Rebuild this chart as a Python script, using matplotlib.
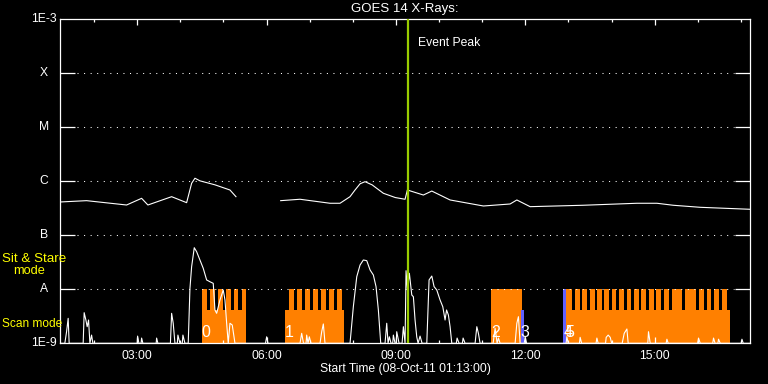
import numpy as np
import matplotlib
matplotlib.use("Agg")
import matplotlib.pyplot as plt
from matplotlib.ticker import FixedLocator, MultipleLocator, NullFormatter

plt.rcParams['font.family'] = ['Liberation Sans', 'DejaVu Sans']

# ---------------- data (time in decimal hours of 08-Oct-11) ----------------
goes_t = [1.214, 1.826, 2.754, 3.102, 3.248, 3.798, 4.146, 4.262, 4.339, 4.455, 4.803, 5.151, 5.290,
          np.nan,
          6.327, 6.775, 7.471, 7.703, 7.935, 8.051, 8.168, 8.283, 8.446, 8.708, 8.986, 9.211, 9.265,
          9.636, 9.831, 10.255, 11.028, 11.647, 11.803, 12.111, 13.341, 14.587, 15.051, 15.429,
          16.056, 17.216]
goes_flux = [4.14e-7, 4.38e-7, 3.64e-7, 4.84e-7, 3.64e-7, 5.19e-7, 4.02e-7, 9.19e-7, 1.14e-6, 1.02e-6,
             8.6e-7, 6.9e-7, 5.19e-7,
             np.nan,
             4.38e-7, 4.65e-7, 3.92e-7, 3.92e-7, 5.19e-7, 6.9e-7, 9.0e-7, 9.84e-7, 8.6e-7, 6.0e-7,
             5.0e-7, 4.65e-7, 6.9e-7, 5.57e-7, 6.6e-7, 4.51e-7, 3.49e-7, 3.80e-7, 4.51e-7, 3.39e-7,
             3.60e-7, 3.92e-7, 3.92e-7, 3.60e-7, 3.30e-7, 3.03e-7]

deriv_t = [1.214, 1.322, 1.362, 1.399, 1.422, 1.747, 1.770, 1.810, 1.840, 1.872, 1.903, 1.942, 1.972,
           3.000, 3.009, 3.039, 3.090, 3.102, 3.132, 3.440, 3.450, 3.480,
           3.770, 3.798, 3.835, 3.875, 3.930, 3.944, 3.991, 4.045, 4.060, 4.107,
           4.183, 4.223, 4.262, 4.323, 4.378, 4.455, 4.531, 4.610, 4.687, 4.763, 4.803, 4.842, 4.919,
           4.995, 5.035, 5.074, 5.111, 5.151, 5.204, 5.267,
           5.974, 6.002, 6.033, 6.775, 6.814, 6.856, 6.915, 6.930, 6.961, 6.991, 7.030, 7.239, 7.278, 7.316, 7.355,
           7.935, 8.012, 8.091, 8.168, 8.244, 8.323, 8.400, 8.476, 8.538, 8.592, 8.647,
           8.747, 8.786, 8.817, 8.847, 8.886, 8.925, 8.940, 8.979, 9.005, 9.018, 9.072, 9.142, 9.172, 9.211,
           9.234, 9.265, 9.311, 9.367, 9.404, 9.443, 9.482, 9.513, 9.559, 9.606,
           9.715, 9.768, 9.831, 9.884, 9.947, 10.023, 10.086, 10.139, 10.174, 10.216, 10.255, 10.295,
           10.400, 10.418, 10.464, 10.540, 10.557, 10.603, 10.835, 10.875, 10.912, 10.951,
           11.253, 11.299, 11.346, 11.376, 11.415, 11.763, 11.803, 11.840, 11.879, 11.975, 11.995, 12.030,
           12.945, 12.963, 12.993, 13.255, 13.271, 13.306, 13.640, 13.659, 13.689, 13.860, 13.875, 13.921,
           13.968, 14.003,
           14.246, 14.293, 14.355, 14.385, 14.840, 14.856, 14.896, 15.265, 15.283, 15.313, 15.995, 16.016,
           16.056, 16.345, 16.364, 16.400, 16.465, 16.480, 16.520, 17.005, 17.023, 17.053, 17.216]
deriv_flux = [1e-9, 1e-9, 1.64e-9, 2.90e-9, 1e-9, 1e-9, 3.69e-9, 2.70e-9, 2.03e-9, 2.70e-9, 1e-9, 1.42e-9, 1e-9,
              1e-9, 1.36e-9, 1e-9, 1e-9, 1.25e-9, 1e-9, 1e-9, 1.25e-9, 1e-9,
              1e-9, 3.59e-9, 2.35e-9, 1e-9, 1e-9, 1.42e-9, 1e-9, 1e-9, 1.42e-9, 1e-9,
              1e-9, 1.04e-8, 2.62e-8, 5.89e-8, 4.97e-8, 3.49e-8, 2.45e-8, 1.49e-8, 1.38e-8, 1.29e-8,
              4.14e-9, 3.59e-9, 6.34e-9, 9.70e-9, 6.34e-9, 2.35e-9, 1e-9, 2.35e-9, 2.18e-9, 1e-9,
              1e-9, 1.32e-9, 1e-9, 1e-9, 1.53e-9, 1e-9, 1e-9, 1.42e-9, 1e-9, 1.32e-9, 1e-9, 1e-9, 1.64e-9,
              2.28e-9, 1e-9,
              1e-9, 4.76e-9, 1.71e-8, 2.82e-8, 3.49e-8, 3.39e-8, 2.28e-8, 1.84e-8, 1.12e-8, 4.14e-9, 1e-9,
              1e-9, 2.35e-9, 1e-9, 1.32e-9, 1e-9, 1e-9, 1.42e-9, 1e-9, 1e-9, 1.64e-9, 1e-9, 1e-9, 2.03e-9, 1e-9,
              2.21e-8, 9.70e-9, 1.98e-8, 7.84e-9, 7.29e-9, 2.70e-9, 1.32e-9, 1e-9, 1.36e-9, 1e-9,
              1e-9, 1.49e-8, 1.76e-8, 1.12e-8, 9.70e-9, 6.34e-9, 4.76e-9, 2.70e-9, 4.14e-9, 3.34e-9, 2.03e-9, 1e-9,
              1e-9, 1.25e-9, 1e-9, 1e-9, 1.25e-9, 1e-9, 1e-9, 2.03e-9, 1.53e-9, 1e-9,
              1e-9, 1.90e-9, 1e-9, 1.25e-9, 1e-9, 1e-9, 2.35e-9, 3.11e-9, 1e-9, 1e-9, 1.32e-9, 1e-9,
              1e-9, 1.32e-9, 1e-9, 1e-9, 1.29e-9, 1e-9, 1e-9, 1.25e-9, 1e-9, 1e-9, 1.29e-9, 1.42e-9,
              1.29e-9, 1e-9,
              1e-9, 1.53e-9, 1.84e-9, 1e-9, 1e-9, 1.64e-9, 1e-9, 1e-9, 1.19e-9, 1e-9, 1e-9, 1.25e-9,
              1e-9, 1e-9, 1.25e-9, 1e-9, 1e-9, 1.19e-9, 1e-9, 1e-9, 1.19e-9, 1e-9, 1e-9]

# raster (scan) observations: base block and sit/stare teeth
scan_start = [4.494, 6.420, 11.206, 12.940]
scan_end = [5.522, 7.796, 11.919, 16.752]
tooth_start = [4.494, 4.694, 4.879, 5.065, 5.251, 5.422,
               6.520, 6.705, 6.891, 7.076, 7.262, 7.441, 7.626,
               11.206,
               12.940, 13.144, 13.318, 13.492, 13.666, 13.828, 14.002, 14.176, 14.350, 14.513,
               14.687, 14.861, 15.035, 15.209, 15.394, 15.708, 16.032, 16.206, 16.381, 16.555]
tooth_end = [4.617, 4.803, 4.988, 5.174, 5.343, 5.522,
             6.636, 6.821, 7.006, 7.193, 7.378, 7.557, 7.742,
             11.919,
             13.074, 13.260, 13.434, 13.608, 13.770, 13.933, 14.107, 14.281, 14.455, 14.629,
             14.803, 14.977, 15.151, 15.325, 15.638, 15.963, 16.137, 16.311, 16.485, 16.675]
scan_level = 4.14e-9
stare_level = 1e-8
blue_start = [11.896, 12.877]
blue_end = [11.972, 12.940]
blue_top = [4.14e-9, 1e-8]

obs_labels = ['0', '1', '2', '3', '4', '5']
obs_label_t = [4.494, 6.420, 11.206, 11.896, 12.877, 12.940]

event_peak_t = 9.274
levels = [1e-9, 1e-8, 1e-7, 1e-6, 1e-5, 1e-4, 1e-3]
level_labels = ['1E-9', 'A', 'B', 'C', 'M', 'X', '1E-3']
hour_ticks = [3, 6, 9, 12, 15]
hour_labels = ['03:00', '06:00', '09:00', '12:00', '15:00']
t_min, t_max = 1.2167, 17.2167

# ---------------- figure ----------------
W, H = 768, 384
fig = plt.figure(figsize=(7.68, 3.84), dpi=100, facecolor='black')
ax = fig.add_axes([60.3 / W, 1 - 343.3 / H, 690 / W, 324 / H])
ax.set_facecolor('black')
ax.set_yscale('log')
ax.set_xlim(t_min, t_max)
ax.set_ylim(levels[0], levels[-1])

orange = '#FF8000'
base_w = [e - s for s, e in zip(scan_start, scan_end)]
ax.bar(scan_start, [scan_level - 1e-9] * len(scan_start), width=base_w, bottom=1e-9,
       align='edge', color=orange, linewidth=0, zorder=1)
tooth_w = [e - s for s, e in zip(tooth_start, tooth_end)]
ax.bar(tooth_start, [stare_level - 1e-9] * len(tooth_start), width=tooth_w, bottom=1e-9,
       align='edge', color=orange, linewidth=0, zorder=1)
blue_w = [e - s for s, e in zip(blue_start, blue_end)]
ax.bar(blue_start, [b - 1e-9 for b in blue_top], width=blue_w, bottom=1e-9,
       align='edge', color='#6060FF', linewidth=0, zorder=2)

for lab, t in zip(obs_labels, obs_label_t):
    ax.text(t, 1.58e-9, lab, color='white', fontsize=11.5, ha='left', va='center', zorder=5)

ax.plot(goes_t, goes_flux, color='white', lw=0.8, zorder=4)
ax.plot(deriv_t, deriv_flux, color='white', lw=0.8, zorder=4)

ax.axvline(event_peak_t, color='#99CC00', lw=1.6, zorder=6)
ax.text(event_peak_t + 0.24, 3.64e-4, 'Event Peak', color='white', fontsize=8.7,
        ha='left', va='center', zorder=6)

# grid and level labels
for lv in levels[1:-1]:
    ax.axhline(lv, xmin=0.024, xmax=0.976, color='white', lw=0.75,
               linestyle=(0, (1, 5.3)), zorder=3)
ytr = ax.get_yaxis_transform()
for lv, lab in zip(levels, level_labels):
    ax.text(-16.3 / 690, lv, lab, transform=ytr, color='white', fontsize=8.7,
            ha='center', va='center')

ax.yaxis.set_major_locator(FixedLocator(levels[1:-1]))
ax.yaxis.set_minor_locator(FixedLocator([]))
ax.yaxis.set_major_formatter(NullFormatter())
ax.tick_params(axis='y', which='major', direction='in', length=10.8, width=0.9,
               color='white', left=True, right=True, labelleft=False)

ax.xaxis.set_major_locator(FixedLocator(hour_ticks))
ax.xaxis.set_minor_locator(MultipleLocator(1))
ax.set_xticklabels(hour_labels)
ax.tick_params(axis='x', which='major', direction='in', length=4.3, width=0.9,
               color='white', top=True, bottom=True, labelcolor='white', labelsize=8.7, pad=5)
ax.tick_params(axis='x', which='minor', direction='in', length=2.2, width=0.9,
               color='white', top=True, bottom=True)
for sp in ax.spines.values():
    sp.set_color('white')
    sp.set_linewidth(0.9)

fig.text(405 / W, 1 - 9 / H, 'GOES 14 X-Rays:', color='white', fontsize=9.5,
         ha='center', va='center')
fig.text(405 / W, 1 - 368.7 / H, 'Start Time (08-Oct-11 01:13:00)', color='white',
         fontsize=8.7, ha='center', va='center')

yellow = '#FFFF00'
fig.text(1.7 / W, 1 - 259 / H, 'Sit & Stare', color=yellow, fontsize=9.6, ha='left', va='center')
fig.text(12.7 / W, 1 - 270.7 / H, 'mode', color=yellow, fontsize=9.2, ha='left', va='center')
fig.text(1.7 / W, 1 - 324 / H, 'Scan mode', color=yellow, fontsize=8.6, ha='left', va='center')

fig.savefig('out.png', dpi=100, facecolor='black')
